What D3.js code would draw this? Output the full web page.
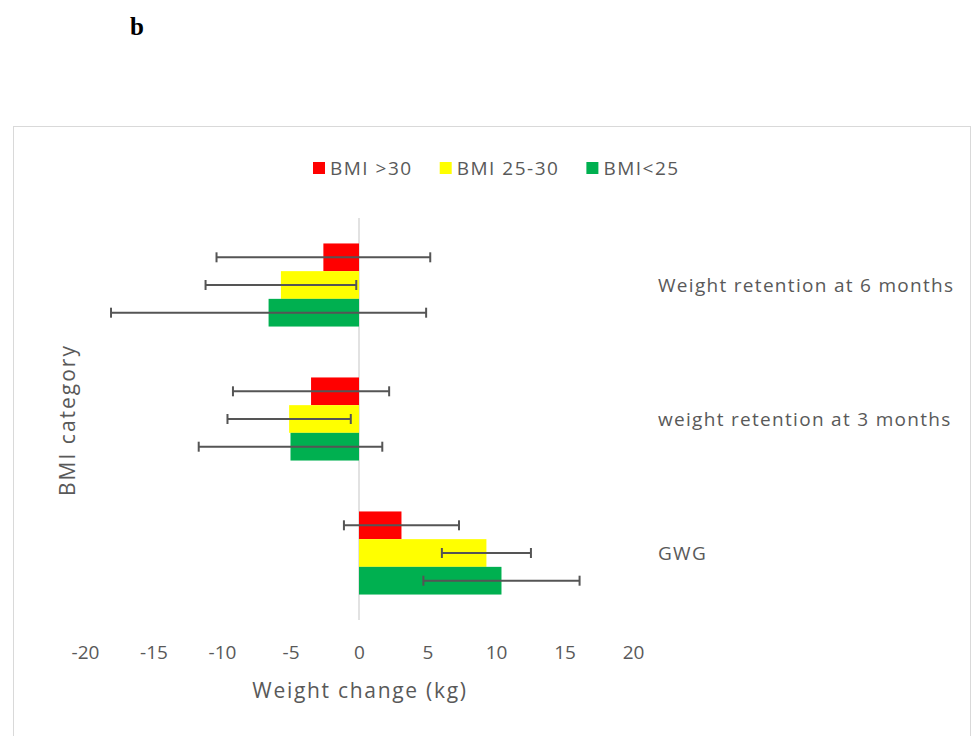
<!DOCTYPE html>
<html>
<head>
<meta charset="utf-8">
<script src="https://cdn.jsdelivr.net/npm/d3@7"></script>
<style>
  body { margin: 0; background: #fff; }
  text { font-family: "Open Sans", Lato, sans-serif; fill: #595959; }
</style>
</head>
<body>
<svg width="972" height="736"></svg>
<script>
// categories, top to bottom as drawn
const categories = ['Weight retention at 6 months', 'weight retention at 3 months', 'GWG'];
const series = ['BMI >30', 'BMI 25-30', 'BMI<25'];
const colors = ['#ff0000', '#ffff00', '#00b050'];

// mean weight change (kg), same order as categories
const bmiOver30 = [-2.6, -3.5, 3.1];
const bmi25to30 = [-5.7, -5.1, 9.3];
const bmiUnder25 = [-6.6, -5.0, 10.4];

// error bar half-widths (kg)
const errOver30 = [7.8, 5.7, 4.2];
const err25to30 = [5.5, 4.5, 3.25];
const errUnder25 = [11.5, 6.7, 5.7];

const xTicks = [-20, -15, -10, -5, 0, 5, 10, 15, 20];

const means = [bmiOver30, bmi25to30, bmiUnder25];
const errs = [errOver30, err25to30, errUnder25];

const rows = [];
categories.forEach((c, ci) => {
    series.forEach((s, si) => {
        rows.push({ cat: c, ser: s, value: means[si][ci], err: errs[si][ci], color: colors[si] });
    });
});

const svg = d3.select('svg');

// figure label
svg.append('text')
    .attr('x', 130)
    .attr('y', 35)
    .style('font-family', '"Liberation Serif", serif')
    .style('font-weight', 'bold')
    .style('font-size', '25px')
    .style('fill', '#000')
    .text('b');

// chart frame
svg.append('rect')
    .attr('x', 13.5)
    .attr('y', 126.5)
    .attr('width', 957)
    .attr('height', 620)
    .attr('fill', 'none')
    .attr('stroke', '#d9d9d9');

const xScale = d3.scaleLinear()
    .domain([-20, 20])
    .range([85, 633]);

const yScale = d3.scaleBand()
    .domain(categories)
    .range([218, 620])
    .paddingInner(0.38)
    .paddingOuter(0.19);

const ySub = d3.scaleBand()
    .domain(series)
    .range([0, yScale.bandwidth()]);

// x axis tick labels (no axis line)
const xAxis = svg.append('g')
    .attr('transform', 'translate(0, 652)')
    .call(d3.axisBottom(xScale)
        .tickValues(xTicks)
        .tickFormat((d) => String(d))
        .tickSize(0)
        .tickPadding(0));
xAxis.select('.domain').remove();
xAxis.selectAll('text')
    .attr('dy', '0.35em')
    .style('font-size', '19px')
    .style('font-family', '"Open Sans", sans-serif')
    .attr('fill', '#595959');

// zero line (category axis)
svg.append('line')
    .attr('x1', xScale(0))
    .attr('x2', xScale(0))
    .attr('y1', 218)
    .attr('y2', 620)
    .attr('stroke', '#d9d9d9')
    .attr('stroke-width', 1.5);

// bars
svg.append('g')
    .selectAll('rect')
    .data(rows)
    .enter()
    .append('rect')
    .attr('x', (d) => xScale(Math.min(0, d.value)))
    .attr('y', (d) => yScale(d.cat) + ySub(d.ser))
    .attr('width', (d) => Math.abs(xScale(d.value) - xScale(0)))
    .attr('height', ySub.bandwidth())
    .attr('fill', (d) => d.color);

// error bars
const eb = svg.append('g')
    .selectAll('g')
    .data(rows)
    .enter()
    .append('g')
    .attr('stroke', '#555555')
    .attr('stroke-width', 2);

eb.append('line')
    .attr('x1', (d) => xScale(d.value - d.err))
    .attr('x2', (d) => xScale(d.value + d.err))
    .attr('y1', (d) => yScale(d.cat) + ySub(d.ser) + ySub.bandwidth() / 2)
    .attr('y2', (d) => yScale(d.cat) + ySub(d.ser) + ySub.bandwidth() / 2);

[-1, 1].forEach((sign) => {
    eb.append('line')
        .attr('x1', (d) => xScale(d.value + sign * d.err))
        .attr('x2', (d) => xScale(d.value + sign * d.err))
        .attr('y1', (d) => yScale(d.cat) + ySub(d.ser) + ySub.bandwidth() / 2 - 5)
        .attr('y2', (d) => yScale(d.cat) + ySub(d.ser) + ySub.bandwidth() / 2 + 5);
});

// category labels on the right
svg.append('g')
    .selectAll('text')
    .data(categories)
    .enter()
    .append('text')
    .attr('x', 658)
    .attr('y', (d) => yScale(d) + yScale.bandwidth() / 2)
    .attr('dy', '0.35em')
    .style('font-size', '19px')
    .style('letter-spacing', '1.3px')
    .text((d) => d);

// axis titles
svg.append('text')
    .attr('x', 360)
    .attr('y', 691)
    .attr('dy', '0.35em')
    .attr('text-anchor', 'middle')
    .style('font-size', '21px')
    .style('letter-spacing', '1.7px')
    .text('Weight change (kg)');

svg.append('text')
    .attr('transform', 'translate(68, 420) rotate(-90)')
    .attr('dy', '0.35em')
    .attr('text-anchor', 'middle')
    .style('font-size', '21px')
    .style('letter-spacing', '2px')
    .text('BMI category');

// legend
const legend = svg.append('g');
let lx = 313;
series.forEach((s, i) => {
    legend.append('rect')
        .attr('x', lx)
        .attr('y', 162)
        .attr('width', 12)
        .attr('height', 12)
        .attr('fill', colors[i]);
    const t = legend.append('text')
        .attr('x', lx + 17)
        .attr('y', 168)
        .attr('dy', '0.35em')
        .style('font-size', '19px')
        .style('letter-spacing', '1.5px')
        .text(s);
    lx += 17 + t.node().getComputedTextLength() + 27;
});
</script>
</body>
</html>
